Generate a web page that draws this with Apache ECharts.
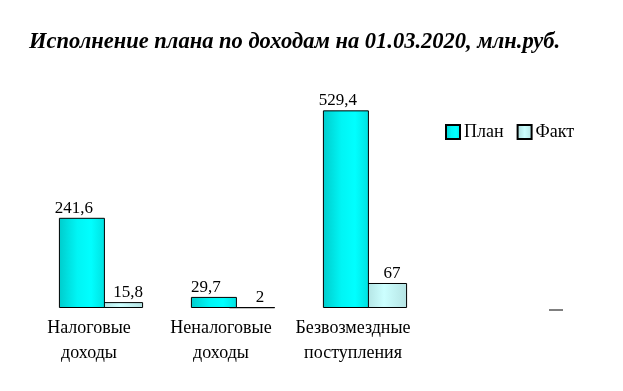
<!DOCTYPE html>
<html><head><meta charset="utf-8">
<script src="https://cdn.jsdelivr.net/npm/echarts@6/dist/echarts.min.js"></script>
<style>html,body{margin:0;padding:0;background:#fff}#c{width:623px;height:391px}</style>
</head><body><div id="c"></div>
<script>
const categories = ['Налоговые\nдоходы', 'Неналоговые\nдоходы', 'Безвозмездные\nпоступления'];
const planValues = [241.6, 29.7, 529.4];
const factValues = [15.8, 2, 67];
const seriesNames = ['План', 'Факт'];
const titleText = 'Исполнение плана по доходам на 01.03.2020, млн.руб.';

const serif = '"Liberation Serif", "DejaVu Serif", serif';
const fmt = p => String(p.value).replace('.', ',');
const chart = echarts.init(document.getElementById('c'));
chart.setOption({
  animation: false,
  title: { text: titleText, left: 24, top: 26,
    textStyle: { fontFamily: serif, fontStyle: 'italic', fontWeight: 'bold', fontSize: 22.5, color: '#000' } },
  legend: { left: 440, top: 118, itemWidth: 14, itemHeight: 14, itemGap: 13,
    textStyle: { fontFamily: serif, fontSize: 18, color: '#000', padding: [0, 0, 0, -1] },
    data: seriesNames.map(n => ({ name: n, icon: 'rect' })) },
  grid: { left: 35, top: 84, width: 396, height: 224 },
  xAxis: { type: 'category', data: categories,
    axisLine: { show: false }, axisTick: { show: false },
    axisLabel: { interval: 0, hideOverlap: false, fontFamily: serif, fontSize: 18, color: '#000', lineHeight: 25, margin: 8, padding: [0, 24, 0, 0] } },
  yAxis: { type: 'value', min: 0, max: 600, show: false, splitLine: { show: false } },
  graphic: [{ type: 'line', shape: { x1: 549, y1: 310, x2: 563, y2: 310 }, style: { stroke: '#000', lineWidth: 1 } }],
  series: [
    { name: seriesNames[0], type: 'bar', data: planValues, barWidth: 46, barGap: '-17%', z: 3,
      itemStyle: { color: new echarts.graphic.LinearGradient(0, 0, 1, 0, [
          { offset: 0, color: '#00CCCC' }, { offset: 0.4, color: '#00F5F5' }, { offset: 0.7, color: '#00FFFF' }, { offset: 1, color: '#00E0E0' }]),
        borderColor: '#000', borderWidth: 1 },
      label: { show: true, position: 'top', distance: 1, offset: [-8, 0], formatter: fmt,
        fontFamily: serif, fontSize: 17, color: '#000' } },
    { name: seriesNames[1], type: 'bar', data: factValues, barWidth: 46, z: 2,
      itemStyle: { color: new echarts.graphic.LinearGradient(0, 0, 1, 0, [
          { offset: 0, color: '#ABDADA' }, { offset: 0.5, color: '#CCFFFF' }, { offset: 1, color: '#B5E3E3' }]),
        borderColor: '#000', borderWidth: 1 },
      label: { show: true, position: 'top', distance: 1, offset: [8, 0], formatter: fmt,
        fontFamily: serif, fontSize: 17, color: '#000' } }
  ]
});
</script></body></html>
